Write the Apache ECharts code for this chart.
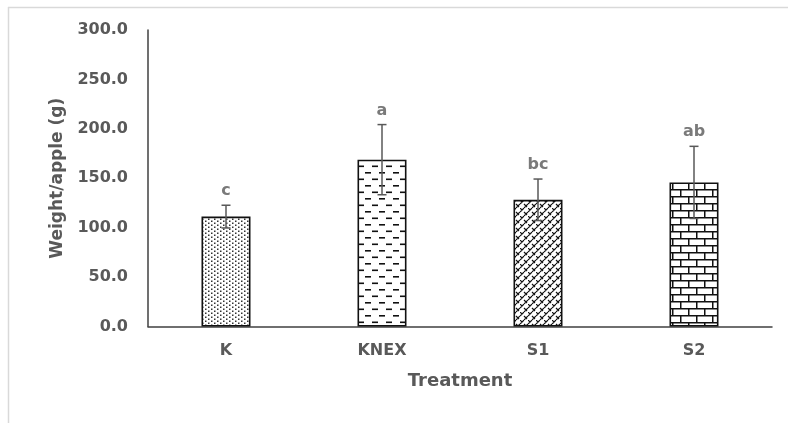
<!DOCTYPE html>
<html><head><meta charset="utf-8">
<script src="https://cdn.jsdelivr.net/npm/echarts@6/dist/echarts.min.js"></script>
<style>html,body{margin:0;padding:0;background:#fff}#c{width:788px;height:423px}</style>
</head><body><div id="c"></div>
<script>
const categories = ['K', 'KNEX', 'S1', 'S2'];
const means = [111.2, 168.8, 128.2, 145.8];
const errors = [11.5, 35.5, 21.0, 36.5];
const letters = ['c', 'a', 'bc', 'ab'];
const yTicks = [0, 50, 100, 150, 200, 250, 300];

function tile(w, h, draw) {
  const c = document.createElement('canvas');
  c.width = w; c.height = h;
  const g = c.getContext('2d');
  g.fillStyle = '#fff'; g.fillRect(0, 0, w, h);
  g.fillStyle = '#222'; g.strokeStyle = '#111';
  draw(g);
  return c;
}
const patDots = tile(6, 4, g => {
  g.fillStyle = '#333';
  g.fillRect(1, 0.5, 1.5, 1.5);
  g.fillRect(4, 2.5, 1.5, 1.5);
});
const patDash = tile(14, 13, g => {
  g.fillStyle = '#111';
  g.fillRect(1, 3, 6, 1.6);
  g.fillRect(8, 9.5, 6, 1.6);
});
const patWeave = tile(8, 8, g => {
  g.lineWidth = 1.2; g.lineCap = 'butt';
  g.beginPath();
  g.moveTo(0, 4); g.lineTo(4, 0);
  g.moveTo(4, 8); g.lineTo(8, 4);
  g.moveTo(4, 4); g.lineTo(7, 7);
  g.moveTo(0, 0); g.lineTo(2, 2);
  g.stroke();
});
const patBrick = tile(16, 14, g => {
  g.fillStyle = '#111';
  g.fillRect(0, 0, 16, 1.5);
  g.fillRect(0, 7, 16, 1.5);
  g.fillRect(0, 0, 1.5, 7);
  g.fillRect(8, 7, 1.5, 7);
});
const patterns = [patDots, patDash, patWeave, patBrick];

const textColor = '#595959';
const font = 'DejaVu Sans';

const chart = echarts.init(document.getElementById('c'), null, {renderer: 'canvas'});
chart.setOption({
  animation: false,
  backgroundColor: '#fff',
  grid: {left: 148, right: 16, top: 30, bottom: 96.5, containLabel: false},
  graphic: [
    {type: 'line', shape: {x1: 8, y1: 7.5, x2: 788, y2: 7.5}, style: {stroke: '#d9d9d9', lineWidth: 1.5}, silent: true},
    {type: 'line', shape: {x1: 8.5, y1: 7, x2: 8.5, y2: 423}, style: {stroke: '#d9d9d9', lineWidth: 1.5}, silent: true}
  ],
  xAxis: {
    type: 'category', data: categories,
    name: 'Treatment', nameLocation: 'middle', nameGap: 46,
    nameTextStyle: {color: textColor, fontFamily: font, fontWeight: 'bold', fontSize: 18},
    axisLine: {lineStyle: {color: '#404040', width: 1.5}},
    axisTick: {show: false},
    axisLabel: {color: textColor, fontFamily: font, fontWeight: 'bold', fontSize: 16, margin: 16}
  },
  yAxis: {
    type: 'value', min: 0, max: 300, interval: 50,
    name: 'Weight/apple (g)', nameLocation: 'middle', nameGap: 82,
    nameTextStyle: {color: textColor, fontFamily: font, fontWeight: 'bold', fontSize: 17},
    axisLine: {show: true, lineStyle: {color: '#404040', width: 1.5}},
    axisTick: {show: false},
    splitLine: {show: false},
    axisLabel: {color: textColor, fontFamily: font, fontWeight: 'bold', fontSize: 16, margin: 20,
      formatter: v => yTicks.includes(v) ? v.toFixed(1) : ''}
  },
  series: [
    {
      type: 'bar', barWidth: 49,
      data: means.map((v, i) => ({value: v, itemStyle: {color: {image: patterns[i], repeat: 'repeat'}}})),
      itemStyle: {borderColor: '#111', borderWidth: 1.6},
      z: 2
    },
    {
      type: 'custom', z: 5,
      data: means.map((v, i) => [i, v - errors[i], v + errors[i]]),
      renderItem: (params, api) => {
        const lo = api.coord([api.value(0), api.value(1)]);
        const hi = api.coord([api.value(0), api.value(2)]);
        const cap = 4.5;
        const st = {stroke: '#595959', lineWidth: 1.5};
        return {type: 'group', children: [
          {type: 'line', shape: {x1: hi[0], y1: hi[1], x2: lo[0], y2: lo[1]}, style: st},
          {type: 'line', shape: {x1: hi[0] - cap, y1: hi[1], x2: hi[0] + cap, y2: hi[1]}, style: st},
          {type: 'line', shape: {x1: lo[0] - cap, y1: lo[1], x2: lo[0] + cap, y2: lo[1]}, style: st}
        ]};
      }
    },
    {
      type: 'scatter', symbolSize: 0, z: 6,
      data: means.map((v, i) => [i, v + errors[i]]),
      label: {show: true, position: 'top', distance: 6, color: textColor, fontFamily: font, fontWeight: 'bold', fontSize: 16,
        formatter: p => letters[p.dataIndex]}
    }
  ]
});
</script></body></html>
